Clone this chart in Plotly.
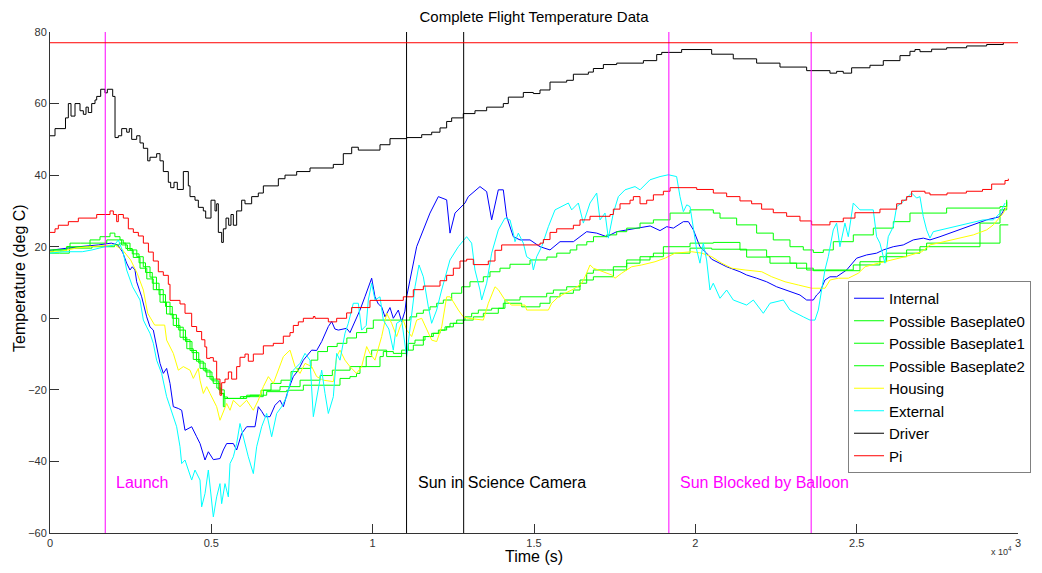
import plotly.graph_objects as go

# ---------------- data (time in s, temperature in deg C) ----------------
internal = [(0,19),(400,19.5),(900,20),(1500,20.5),(1900,21),(2100,20.5),(2250,18.5),(2376,15.4),(2479,13.5),(2550,14.4),(2634,13.5),(2686,10.2),(2841,6),(2997,0.4),(3099,-2.4),(3202,-3.3),(3305,-7.9),(3409,-12.6),(3512,-15.4),(3615,-14),(3719,-18.2),(3822,-24.7),(3977,-25.2),(4081,-25.7),(4184,-31.3),(4391,-30.3),(4545,-33.1),(4650,-35),(4804,-39.6),(4907,-37.3),(5062,-39.5),(5268,-39.2),(5372,-36.8),(5475,-35),(5682,-35),(5785,-36.8),(5940,-32.2),(6095,-30.3),(6353,-30.3),(6456,-24.7),(6560,-26),(6663,-27.5),(6818,-27.5),(6973,-24.3),(7128,-22.9),(7231,-24.7),(7386,-20),(7541,-16.3),(7696,-14.5),(7851,-11.7),(8110,-8.9),(8265,-9),(8420,-6.5),(8626,-2.3),(8729,-0.9),(8830,-3),(8936,-3.3),(9193,-2.8),(9297,-4),(9452,-1),(9607,2.3),(9760,6),(9917,9.8),(9969,11.2),(10072,6),(10175,4),(10278,3.2),(10382,0.4),(10537,3),(10640,0),(10795,2.3),(10898,-1),(11000,2),(11053,6),(11363,20),(11776,29.4),(12035,34),(12293,33.1),(12397,23.8),(12552,29.4),(12861,32.2),(12964,34),(13326,36.8),(13533,35.4),(13688,27.5),(13894,35.9),(14049,35.9),(14153,28.4),(14359,22.8),(14566,21.9),(14876,21.9),(15186,20),(15496,19.1),(15806,21.4),(16220,21.4),(16633,24.2),(16943,23.8),(17253,22.8),(17563,24.2),(17873,24.7),(18286,25.4),(18600,25.8),(18906,24.5),(19113,25.6),(19320,25.2),(19630,27),(19785,27),(19940,24.7),(20143,20),(20350,18.2),(20507,16.5),(20764,15.4),(20971,14.4),(21383,13),(21590,12.1),(21900,11.2),(22210,10.2),(22520,8.8),(22830,7.9),(23243,6.5),(23450,5.1),(23656,5.1),(23760,6.5),(23863,7.4),(24017,10.7),(24172,11.6),(24379,11.6),(24689,13.5),(25000,16.8),(25308,17.7),(25618,18.2),(25825,19.1),(26135,20),(26445,20.5),(26755,21.9),(27065,22.4),(27272,21.9),(27582,22.8),(29029,27.5),(29236,28),(29442,28.4),(29597,30.8)]

baseplate0 = [(0,18.6),(100,19.1),(520,20),(620,21),(940,21),(1240,21.9),(1550,22.8),(1860,23.8),(1960,23.8),(2010,22.8),(2170,21.9),(2270,21),(2480,19.1),(2690,17.2),(2890,14.4),(3100,11.5),(3300,8),(3510,4.5),(3720,1),(3920,-2.5),(4130,-6),(4340,-9),(4540,-12),(4750,-14.5),(4960,-17),(5170,-19.5),(5300,-21),(5400,-22),(5500,-22.4),(5900,-21.9),(6200,-21.5),(6540,-20.1),(6850,-18.2),(7160,-17.3),(7470,-14.9),(7680,-14),(8090,-11.7),(8300,-9.3),(8600,-7.9),(8900,-7),(9200,-5.5),(9500,-4),(9814,-2.8),(10020,-0.5),(11055,-0.5),(11156,0.4),(11363,1.4),(11570,2.3),(11777,3.2),(11984,4.2),(12190,5.1),(12449,7),(12759,8.8),(13016,10.2),(13430,11.6),(13636,13),(13946,14),(14256,15.1),(14876,16.3),(15400,17.1),(15706,18.2),(16119,19.1),(16326,20.5),(16636,21.4),(16843,22.8),(17253,23.3),(17563,24.2),(17873,25.2),(18286,26.6),(18700,27.5),(19216,29.4),(19836,30.3),(20300,30.3),(20558,29.4),(20765,28),(21280,26.1),(21900,23.8),(22416,21.9),(22933,20),(23346,19.1),(23656,18.4),(23966,19.1),(24276,21.4),(24896,23.3),(25516,25.2),(26136,27),(26652,29.4),(27788,30.8),(29442,31.2),(29650,33.1)]

baseplate1 = [(0,19.1),(520,20),(900,20),(1240,21),(1760,21.9),(2120,21.9),(2220,20.5),(2400,19),(2580,17),(2790,14),(3000,11),(3200,8),(3410,4.5),(3610,1.2),(3820,-2),(4030,-5.3),(4240,-8.5),(4440,-11.5),(4650,-14),(4860,-16.3),(5060,-18.2),(5270,-21),(5372,-24.7),(5420,-22.4),(6000,-21.9),(6610,-20.1),(7130,-19.1),(7750,-17.3),(8370,-16),(8750,-14.5),(9300,-13.5),(9800,-10.7),(9969,-8.9),(10382,-8.9),(10433,-10.7),(10898,-8.9),(11105,-7),(11312,-6.1),(11622,-5.1),(11829,-4.2),(12036,-3.3),(12242,-2.4),(12397,-1.4),(12604,-0.5),(12862,0.4),(13068,1.4),(13275,2.3),(13688,2.8),(14100,5.1),(14566,6),(15393,7),(15600,7.9),(16013,8.8),(16426,10.7),(16840,11.6),(17460,13.5),(17873,16.3),(18286,17.2),(18700,18.2),(19010,20),(19836,21),(20560,21.2),(21383,19.1),(22209,17.2),(22933,15.4),(23450,13.5),(24482,13.5),(24895,14.9),(25721,17.2),(26548,19.1),(27168,21),(29442,26.1),(29700,26.1)]

baseplate2 = [(0,18.2),(300,18.2),(600,19.6),(1300,20),(2000,20.5),(2150,21),(2250,21),(2350,19.5),(2550,18),(2760,15.5),(2960,12.8),(3170,9.8),(3380,6.6),(3580,3.3),(3790,0),(3990,-3.3),(4200,-6.5),(4400,-9.6),(4610,-12.5),(4810,-15),(5020,-17.5),(5230,-20),(5400,-22.4),(5700,-22.4),(6095,-21.5),(6715,-20.5),(7335,-20.1),(7851,-18.7),(8781,-18.7),(8988,-16.8),(9297,-16.3),(9500,-15.4),(9607,-13.5),(10072,-13.5),(10227,-10.7),(10330,-9.3),(10640,-9.8),(11053,-8.9),(11260,-7.5),(11570,-5.1),(11880,-4.2),(12087,-3.3),(12293,-2.4),(12500,-1.4),(12810,-0.5),(13119,0.4),(13430,1.4),(13894,2.8),(14049,4.2),(14566,4.2),(14618,3.2),(15186,4.2),(15496,6),(15806,7),(16220,7.9),(16426,9.8),(16633,12.6),(16840,13.5),(17253,13.5),(17459,14.4),(17873,15.4),(18286,16.3),(18596,17.2),(19010,18.2),(19836,19.6),(20506,19.3),(21590,17.1),(22313,15.4),(23140,14),(23656,13.3),(24482,13.3),(25102,15.8),(25928,18.2),(26961,20),(28822,26.6),(29442,30.3),(29650,32.6)]

housing = [(0,18.6),(300,18.6),(800,19.6),(1200,20),(2000,20.5),(2250,19.1),(2500,16.3),(2700,12.6),(2893,7.9),(3000,3),(3028,1.4),(3244,-1.9),(3554,-1.9),(3615,-6.1),(3822,-9.8),(3977,-14.5),(4132,-13.5),(4339,-14.5),(4442,-16.8),(4597,-14),(4649,-17.3),(4752,-21),(4856,-19.1),(4959,-21),(5062,-22.9),(5165,-24.7),(5268,-28.5),(5372,-26),(5475,-23.8),(5579,-25.7),(5682,-22.9),(5888,-24.7),(6095,-22.9),(6302,-25.7),(6456,-22.9),(6612,-19.1),(6767,-16.3),(6922,-18.2),(7077,-14.5),(7232,-10.7),(7438,-8.9),(7593,-13.5),(7748,-15.4),(7903,-12.6),(8110,-13.5),(8265,-16.3),(8471,-17.3),(8781,-17.7),(8884,-10.7),(8988,-8.9),(9142,-11.7),(9297,-13.5),(9500,-15.4),(9658,-13.5),(9814,-7.9),(9917,-9.8),(10072,-11.7),(10279,-5.1),(10434,1.4),(10589,-1.4),(10744,-5.1),(10847,-2.4),(10951,-0.5),(11054,-3.3),(11209,-5.1),(11364,-0.5),(11519,0),(11674,-3.3),(11829,-6.1),(11984,-6.5),(12139,-2.4),(12294,6),(12397,6),(12500,4.6),(12655,2.3),(12810,0.4),(12965,0),(13430,-0.5),(13585,4.2),(13791,8.8),(13894,8),(14101,5.1),(14308,3.7),(14722,3.7),(14773,2.3),(15445,2.3),(15548,4.2),(15755,6),(15962,7),(16272,8.4),(16479,9.8),(16582,11.6),(16737,14.9),(16840,14),(16995,13.5),(17408,12.1),(17511,11.2),(17718,12.6),(18028,14.4),(18338,14.9),(18751,15.8),(19061,16.8),(19371,18.2),(19888,18.6),(20198,18.2),(20508,17.2),(20818,15.4),(21128,14),(21541,13.5),(22058,13),(22368,11.6),(22781,10.2),(23194,9.3),(23607,8.4),(24020,8.4),(24175,10.7),(24433,11.2),(24743,11.2),(25053,12.6),(25260,14.4),(25673,15.4),(26086,16.3),(26500,17.2),(27016,18.6),(27272,20.5),(28615,23.3),(29029,24.7),(29236,26.1),(29546,29.4),(29650,31.2)]

external = [(0,18.2),(400,18.6),(1000,18.6),(1300,19.1),(1700,20),(2000,20.5),(2118,21.9),(2200,20),(2273,18.2),(2376,13.5),(2480,10.7),(2560,8.8),(2790,5.1),(2893,-0.5),(2997,-2.4),(3099,-4.2),(3202,-7),(3305,-11.7),(3460,-15.4),(3564,-20.1),(3615,-21.9),(3719,-24.7),(3925,-30.3),(4029,-35.9),(4081,-40.6),(4184,-39.6),(4287,-42.4),(4391,-45.2),(4494,-42.4),(4649,-45.2),(4700,-52.7),(4804,-49),(4907,-42.4),(5010,-50.8),(5062,-55.5),(5165,-49.9),(5268,-46.2),(5320,-51.8),(5424,-46.2),(5527,-49.9),(5579,-40.6),(5682,-38.7),(5785,-35),(5888,-29.4),(6043,-35),(6146,-38.7),(6302,-43.4),(6405,-35.9),(6560,-30.3),(6715,-26.6),(6870,-33.1),(7025,-26.6),(7180,-24.7),(7335,-21.9),(7541,-14.5),(7748,-12.6),(7903,-9.8),(8058,-11.7),(8161,-27.5),(8316,-19.1),(8420,-14.5),(8523,-21),(8626,-26.6),(8781,-21.9),(8884,-9.8),(8988,-11.7),(9142,-4.2),(9245,-1.4),(9400,4.2),(9555,4.2),(9658,-3.3),(9800,-2),(9865,5.1),(9969,9.8),(10072,5.1),(10227,6),(10330,-0.5),(10500,-3),(10640,-8.9),(10743,-1.4),(10898,-0.5),(11053,-10.7),(11156,-3.3),(11312,8.8),(11436,14.9),(11570,11.6),(11725,3.2),(11828,-1.4),(11983,2.3),(12138,7.9),(12396,16.3),(12654,20),(12912,22.8),(13067,21),(13171,13.5),(13326,7.9),(13378,5.1),(13533,9.8),(13688,18.2),(13894,24.7),(14100,28),(14256,27.5),(14359,23.8),(14411,21.4),(14514,23.8),(14669,21),(14773,17.2),(14928,16.3),(14980,13.5),(15083,17.2),(15238,20),(15445,25.6),(15651,30.3),(15858,31.2),(16065,32.2),(16168,30.3),(16375,32.2),(16530,26.6),(16736,32.2),(16943,35),(17046,27.5),(17201,29.4),(17304,22.4),(17459,29.4),(17614,34),(17821,35.9),(18130,36.8),(18286,35.9),(18596,38.7),(18906,39.6),(19165,40.1),(19420,39.6),(19525,34),(19630,29.8),(19733,31.7),(19836,31.2),(19940,24.7),(20043,19.1),(20143,15.4),(20246,21),(20350,16.3),(20453,7.9),(20556,9.8),(20764,5.6),(20971,7.9),(21177,5.1),(21590,3.7),(21797,5.1),(22107,1.4),(22314,4.2),(22727,5.1),(22934,2.3),(23346,0.4),(23553,-0.5),(23708,-0.5),(23811,2.3),(23914,7.9),(24017,13.5),(24120,17.2),(24275,24.7),(24378,26.6),(24482,20),(24637,26.6),(24740,22.8),(24895,32.2),(25102,30.3),(25514,30.3),(25618,22.8),(25721,21),(25876,15.4),(25979,22.8),(26134,25.6),(26238,31.2),(26444,32.6),(26548,33.6),(26703,35),(26858,33.6),(26961,34),(27064,28.4),(27168,24.7),(27271,22.4),(27374,24.2),(28925,27.5),(29236,27.5),(29442,29.4),(29597,32.2)]

driver = [(0,51),(155,53),(480,56),(568,60),(651,56.5),(775,60),(930,58),(1033,57),(1116,59),(1187,57.5),(1292,60),(1395,61),(1447,62),(1571,64),(1705,63),(1777,64),(1943,62),(2015,50.5),(2118,51),(2222,53),(2377,52),(2458,53),(2532,50),(2687,51),(2790,49),(2893,47.5),(3028,44),(3099,45),(3306,46),(3409,44),(3512,41),(3667,38),(3740,36.5),(3843,38),(3946,36),(4132,41),(4287,37),(4339,34),(4494,33),(4597,31),(4752,30),(4825,28),(4990,33),(5114,30),(5165,32),(5217,24),(5320,21.2),(5372,25),(5455,28),(5537,26),(5609,29),(5682,26),(5785,30),(5940,33),(6043,32),(6250,34),(6456,35),(6612,37),(7077,39),(7283,40),(7645,41),(8058,42),(8780,43),(9090,46),(9350,47.8),(9555,47),(10227,48.5),(10537,50.2),(11055,50.5),(11520,51.3),(11830,52),(12087,53.2),(12293,55),(12448,56),(12809,57.2),(13171,58),(13533,59),(14049,60),(14204,61.8),(14669,63.1),(14979,62.8),(15186,63.8),(15496,66),(16013,66.5),(16220,68.2),(16685,68.8),(16840,69.8),(17150,70.9),(17563,71.3),(18390,72),(18803,73.7),(18958,74.3),(19576,75.1),(20506,73.8),(21176,72.5),(21900,71.3),(22623,70.2),(23450,69.2),(24172,68.5),(24379,69),(24585,68.5),(24844,70),(25412,70.7),(25825,72),(26342,73.4),(26652,74.6),(26807,75.1),(26962,74.5),(27324,75.2),(27789,75.6),(28409,76.1),(29029,76.5),(29545,77)]

pi = [(0,24),(155,25),(258,26),(568,27),(878,28),(1447,29),(1860,30),(1963,29),(2066,27),(2118,29),(2273,28),(2428,25),(2583,24),(2738,23),(2893,21),(3050,18.5),(3201,16),(3357,13),(3512,12),(3667,9.5),(3719,5),(4029,4),(4184,1.4),(4391,-2.3),(4545,-3.7),(4700,-6),(4800,-8),(4856,-11.2),(4959,-11),(5062,-12),(5165,-17),(5268,-21.5),(5320,-18),(5424,-17),(5527,-15),(5630,-17),(5785,-13.5),(5888,-10.9),(6043,-10),(6146,-12),(6302,-10),(6612,-7.7),(6921,-7),(7231,-5),(7438,-4),(7541,-2),(7696,-1),(7851,0),(8161,0.5),(8213,0),(8626,-1),(8884,0),(9193,1.5),(9348,3),(9917,5),(10950,6),(11260,8),(11570,9),(12087,10.5),(12293,12),(12500,14),(12706,16),(12913,16.5),(13119,15),(13584,16),(13791,19),(13998,20.5),(15186,21),(15289,22),(15496,24),(15703,25),(16220,26),(16426,27.5),(16736,28.5),(17356,29),(17459,30.5),(17666,32),(17976,33),(18079,34),(18286,32),(18493,33),(18700,34.5),(19010,35.5),(19217,36.5),(20042,36),(20558,35),(20971,34),(21383,32.8),(21745,32),(22055,30.5),(22416,29.5),(22830,28.5),(23243,27.2),(23605,26.1),(24172,27),(24585,28),(24947,29.5),(25722,30.5),(26239,32),(26394,33),(26549,34),(26704,35.5),(27117,35),(27272,34.5),(27800,35),(28400,35.5),(28900,36),(29184,37.5),(29597,38.5),(29700,39)]

series_names = ["Internal", "Possible Baseplate0", "Possible Baseplate1", "Possible Baseplate2",
                "Housing", "External", "Driver", "Pi"]
series_data = [internal, baseplate0, baseplate1, baseplate2, housing, external, driver, pi]

event_times = [1712, 11050, 12820, 19180, 23590]
event_colors = ["#FF00FF", "#000000", "#000000", "#FF00FF", "#FF00FF"]
event_labels = ["Launch", "Sun in Science Camera", None, "Sun Blocked by Balloon", None]
label_level = -46
limit_temp = 77

x_tickvals = [0, 5000, 10000, 15000, 20000, 25000, 30000]
x_ticktext = ["0", "0.5", "1", "1.5", "2", "2.5", "3"]

# ---------------- styling ----------------
colors = ["#0000FF", "#00FF00", "#00FF00", "#00FF00", "#FFFF00", "#00FFFF", "#000000", "#FF0000"]
shapes_mode = ["linear", "hv", "hv", "hv", "linear", "linear", "hv", "hv"]
FONT = "Arial, Liberation Sans, Helvetica, sans-serif"

fig = go.Figure()
for name, data, col, shp in zip(series_names, series_data, colors, shapes_mode):
    t = [p[0] for p in data]
    v = [p[1] for p in data]
    fig.add_trace(go.Scatter(x=t, y=v, mode="lines", name=name,
                             line=dict(color=col, width=1, shape=shp)))

for t, c, lab in zip(event_times, event_colors, event_labels):
    fig.add_shape(type="line", xref="x", yref="y", x0=t, x1=t, y0=-60, y1=80,
                  line=dict(color=c, width=1))
    if lab:
        fig.add_annotation(x=t, y=label_level, xref="x", yref="y", text=lab,
                           showarrow=False, xanchor="left", yanchor="middle",
                           xshift=9, font=dict(family=FONT, size=16, color=c))

fig.add_shape(type="line", xref="x", yref="y", x0=0, x1=30000, y0=limit_temp, y1=limit_temp,
              line=dict(color="#FF0000", width=1))

# exponent note and axis titles
fig.add_annotation(xref="paper", yref="paper", x=0.983, y=-0.036, text="x 10<sup>4</sup>",
                   showarrow=False, xanchor="center", yanchor="middle",
                   font=dict(family=FONT, size=9, color="#333333"))
fig.add_annotation(xref="paper", yref="paper", x=0.5, y=-0.046, text="Time (s)",
                   showarrow=False, xanchor="center", yanchor="middle",
                   font=dict(family=FONT, size=16, color="#000000"))
fig.add_annotation(xref="paper", yref="paper", x=-0.031, y=0.509, text="Temperature (deg C)",
                   textangle=-90, showarrow=False, xanchor="center", yanchor="middle",
                   font=dict(family=FONT, size=16, color="#000000"))

fig.update_layout(
    width=1042, height=573,
    template="none",
    paper_bgcolor="white", plot_bgcolor="white",
    margin=dict(l=50, r=24, t=32, b=40, autoexpand=False),
    font=dict(family=FONT, color="#000000"),
    title=dict(text="Complete Flight Temperature Data", x=0.5125, xanchor="center",
               y=0.970, yanchor="middle", font=dict(family=FONT, size=15, color="#000000")),
    showlegend=True,
    legend=dict(x=0.8244, y=0.503, xanchor="left", yanchor="top",
                bgcolor="white", bordercolor="#808080", borderwidth=1,
                font=dict(family=FONT, size=15, color="#000000"),
                entrywidth=200, entrywidthmode="pixels",
                tracegroupgap=0),
    xaxis=dict(range=[0, 30000], tickmode="array", tickvals=x_tickvals, ticktext=x_ticktext,
               ticks="inside", ticklen=9, tickcolor="#333333", showline=True, linecolor="#333333",
               linewidth=1, mirror=False, showgrid=False, zeroline=False,
               tickfont=dict(family=FONT, size=11, color="#333333")),
    yaxis=dict(range=[-60, 80], tickmode="linear", tick0=-60, dtick=20,
               ticks="inside", ticklen=9, tickcolor="#333333", showline=True, linecolor="#333333",
               linewidth=1, mirror=False, showgrid=False, zeroline=False,
               tickfont=dict(family=FONT, size=11, color="#333333")),
)

fig.write_html("out.html", config={"displayModeBar": False},
               post_script="document.body.style.margin='0';document.body.style.padding='0';")
